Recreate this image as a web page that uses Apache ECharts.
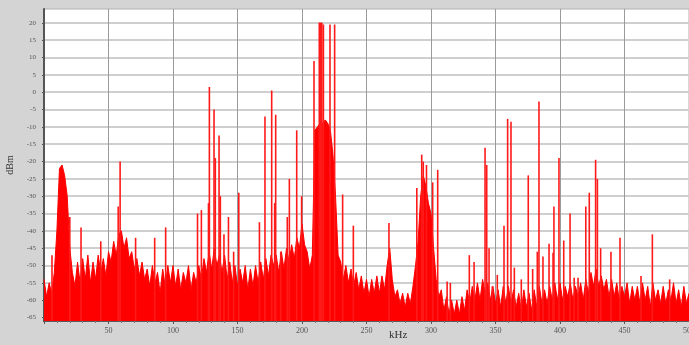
<!DOCTYPE html>
<html>
<head>
<meta charset="utf-8">
<script src="https://cdn.jsdelivr.net/npm/echarts@6/dist/echarts.min.js"></script>
<style>
  html, body { margin: 0; padding: 0; background: #d4d4d4; overflow: hidden; }
  #spectrum { width: 689px; height: 345px; }
</style>
</head>
<body>
<div id="spectrum"></div>
<script>
// noise floor, one reading every 2 kHz from 0 to 500 kHz (dBm)
const floorStep = 2;
const floorDb = [
  -54, -59, -55, -58, -52, -40, -22, -21, -24, -30, // 0
  -45, -52, -56, -49, -55, -48, -54, -47, -55, -49, // 20
  -54, -47, -52, -48, -53, -46, -49, -43, -47, -41, // 40
  -40, -45, -42, -48, -46, -51, -48, -53, -49, -54, // 60
  -51, -56, -50, -55, -52, -58, -51, -56, -50, -55, // 80
  -50, -56, -51, -57, -52, -55, -50, -57, -52, -55, // 100
  -50, -54, -48, -52, -46, -51, -45, -50, -47, -52, // 120
  -47, -54, -49, -55, -50, -56, -51, -55, -50, -57, // 140
  -51, -56, -50, -55, -49, -54, -48, -53, -47, -50, // 160
  -47, -52, -46, -51, -45, -49, -44, -48, -42, -45, // 180
  -38, -44, -46, -51, -47, -11, -10, -9, -9, -8,    // 200
  -9, -11, -18, -30, -47, -49, -54, -50, -55, -51,  // 220
  -56, -52, -57, -53, -58, -54, -59, -54, -58, -53, // 240
  -58, -53, -57, -50, -45, -54, -59, -57, -61, -58, // 260
  -62, -58, -61, -56, -50, -43, -30, -24, -27, -32, // 280
  -35, -45, -54, -59, -57, -63, -59, -64, -60, -64, // 300
  -60, -64, -59, -63, -57, -61, -56, -60, -55, -60, // 320
  -54, -58, -55, -60, -56, -61, -57, -62, -56, -61, // 340
  -56, -61, -57, -62, -58, -63, -57, -62, -58, -63, // 360
  -57, -62, -56, -61, -57, -61, -56, -60, -55, -60, // 380
  -55, -60, -56, -59, -55, -60, -56, -59, -55, -60, // 400
  -54, -58, -52, -56, -51, -56, -53, -57, -54, -59, // 420
  -54, -59, -55, -60, -56, -59, -55, -61, -56, -60, // 440
  -56, -61, -55, -60, -56, -62, -55, -60, -57, -61, // 460
  -56, -61, -57, -60, -55, -61, -57, -62, -56, -61, // 480
  -58                                               // 500
];

// narrow spectral lines
const spikeKHz = [
  6.2, 20, 28.7, 44, 57.5, 59, 71, 85.8, 94.3, 119,
  122, 127.5, 128.2, 131.8, 132.8, 135.7, 136.7, 139.5, 143, 147,
  151, 167, 171.3, 176.5, 178.8, 179.6, 183.5, 188.6, 190.2, 195.9,
  199.7, 209.3, 213.4, 213.9, 214.4, 214.9, 215.4, 216.6, 221.7, 225.3,
  231.5, 239.8, 267.4, 289, 292.8, 294, 296.5, 301.3, 305.2, 312.5,
  315, 329.7, 333.4, 341.9, 343.2, 345, 347.5, 351.4, 356.6, 359.4,
  362, 364.6, 370, 375.4, 378.8, 382.4, 383.7, 386.8, 391.5, 394.6,
  395.3, 399.2, 402.9, 407.8, 411, 414, 420, 422.7, 427.6, 429,
  431.5, 439.5, 446.5, 462.8, 471.6, 485
];
const spikeDb = [
  -47, -36, -39, -43, -33, -20, -42, -42, -39, -35,
  -34, -32, 1.5, -5, -19, -12.5, -30, -41, -36, -46,
  -29, -37.5, -7, 0.5, -32, -6.5, -46, -36, -25, -11,
  -30, 9, 20, 20, 20, 20, 20, 19.5, 19.5, 19.5,
  -29.5, -38.5, -37.7, -27.6, -18, -20, -21, -26, -22.4, -54.6,
  -55, -47, -49, -16, -21, -45, -56, -52.7, -38.5, -7.7,
  -8.5, -50.6, -54, -24, -51, -46, -2.7, -47.4, -43.7, -46.3,
  -33, -19, -42.8, -35, -53.5, -53.5, -33, -29, -19.5, -25,
  -45, -46, -42, -53, -41, -54
];

const yTicks = [-65, -60, -55, -50, -45, -40, -35, -30, -25, -20, -15, -10, -5, 0, 5, 10, 15, 20];
const yMin = -66;
const yMax = 24;

const chart = echarts.init(document.getElementById('spectrum'));

const floorData = floorDb.map((v, i) => [i * floorStep, v]);
const spikeData = spikeKHz.map((f, i) => [f, spikeDb[i]]);

const option = {
  backgroundColor: '#d4d4d4',
  animation: false,
  grid: {
    left: 44,
    right: 0,
    top: 9,
    bottom: 24,
    outerBoundsMode: 'none',
    show: true,
    backgroundColor: '#ffffff',
    borderColor: '#b0b0b0',
    borderWidth: 1
  },
  graphic: [
    {
      type: 'text',
      left: 389,
      top: 330,
      style: { text: 'kHz', fill: '#333', font: '11px "Liberation Serif"' }
    }
  ],
  xAxis: {
    type: 'value',
    min: 0,
    max: 500,
    interval: 50,
    axisLine: { onZero: false, lineStyle: { color: '#3a3a3a', width: 1.5 } },
    axisTick: { show: true, length: 3, lineStyle: { color: '#555' } },
    minorTick: { show: true, splitNumber: 5, length: 2, lineStyle: { color: '#777' } },
    axisLabel: {
      color: '#555',
      fontSize: 8,
      fontFamily: 'Liberation Serif',
      margin: 6,
      formatter: v => (v === 0 ? '' : String(v))
    },
    splitLine: { show: true, lineStyle: { color: '#9a9a9a', width: 1 } }
  },
  yAxis: {
    type: 'value',
    min: yMin,
    max: yMax,
    offset: 4,
    name: 'dBm',
    nameLocation: 'middle',
    nameRotate: 90,
    nameGap: 20,
    nameTextStyle: { color: '#333', fontSize: 10, fontFamily: 'Liberation Serif' },
    axisLine: { show: true, lineStyle: { color: '#555', width: 2 } },
    axisTick: { show: true, length: 2, customValues: yTicks, lineStyle: { color: '#555' } },
    axisLabel: {
      color: '#555',
      fontSize: 7,
      fontFamily: 'Liberation Serif',
      margin: 4,
      customValues: yTicks
    },
    splitLine: { show: true, lineStyle: { color: '#cfcfcf', width: 2 } }
  },
  series: [
    {
      name: 'floor',
      type: 'line',
      data: floorData,
      symbol: 'none',
      lineStyle: { color: '#ff0000', width: 1 },
      areaStyle: { color: '#ff0000', opacity: 1, origin: 'start' },
      z: 3
    },
    {
      name: 'lines',
      type: 'custom',
      data: spikeData,
      clip: true,
      z: 4,
      renderItem: (params, api) => {
        const top = api.coord([api.value(0), api.value(1)]);
        const base = api.coord([api.value(0), yMin]);
        return {
          type: 'rect',
          shape: { x: top[0] - 0.8, y: top[1], width: 1.6, height: base[1] - top[1] },
          style: { fill: '#ff1a1a' }
        };
      }
    }
  ]
};

chart.setOption(option);
</script>
</body>
</html>
